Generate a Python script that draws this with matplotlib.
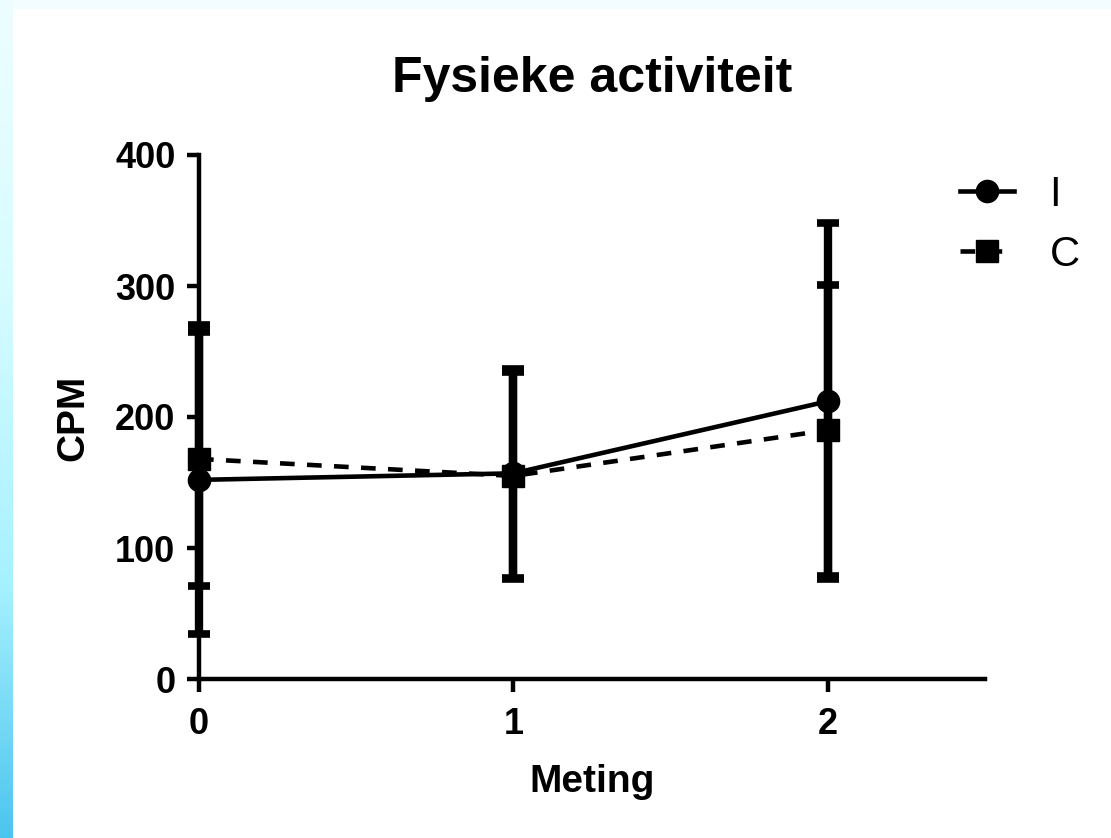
import matplotlib.pyplot as plt
import numpy as np
from matplotlib.colors import LinearSegmentedColormap

plt.rcParams["font.family"] = ["Liberation Sans", "DejaVu Sans"]

# measurement moments and group means / SD (CPM)
meting = [0, 1, 2]
i_mean = [152, 157, 212]
i_sd = [118, 80, 136]
c_mean = [168, 155, 190]
c_sd = [97, 79, 111]

yticks = [0, 100, 200, 300, 400]
xticks = [0, 1, 2]

W, H = 1111, 838
fig = plt.figure(figsize=(W / 100, H / 100), dpi=100)
fig.patch.set_facecolor("white")

# slide background: pale strip on top, cyan-blue gradient on the left
top = fig.add_axes([0, 1 - 9 / H, 1, 9 / H])
top.set_axis_off()
top.add_patch(plt.Rectangle((0, 0), 1, 1, color="#f3fdff", transform=top.transAxes))

side = fig.add_axes([0, 0, 13 / W, 1])
grad_cmap = LinearSegmentedColormap.from_list(
    "side", [(0, "#eefeff"), (0.35, "#d6fcff"), (0.7, "#a6f1ff"), (1.0, "#4cc5ee")]
)
side.imshow(np.linspace(0, 1, 256).reshape(-1, 1), aspect="auto", cmap=grad_cmap)
side.set_axis_off()

ax = fig.add_axes([199 / W, (H - 679) / H, (985 - 199) / W, (679 - 155) / H])

lw_axis = 3.2
ax.errorbar(meting, i_mean, yerr=i_sd, fmt="none", ecolor="black",
            elinewidth=6, capsize=8, capthick=5.5, clip_on=False, zorder=2)
ax.errorbar(meting, c_mean, yerr=c_sd, fmt="none", ecolor="black",
            elinewidth=6, capsize=8, capthick=5.5, clip_on=False, zorder=2)

ax.plot(meting, i_mean, color="black", lw=3.3, marker="o", ms=16,
        label="I", clip_on=False, zorder=3)
ax.plot(meting, c_mean, color="black", lw=3.3, ls=(0, (3.2, 2.7)),
        marker="s", ms=16, label="C", clip_on=False, zorder=3)

ax.set_xlim(0, 2.5)
ax.set_ylim(0, 400)
ax.set_xticks(xticks)
ax.set_yticks(yticks)

for side_name in ["top", "right"]:
    ax.spines[side_name].set_visible(False)
for side_name in ["left", "bottom"]:
    ax.spines[side_name].set_linewidth(lw_axis)

ax.tick_params(axis="both", direction="out", length=9, width=lw_axis,
               labelsize=26)
ax.tick_params(axis="y", pad=8)
ax.tick_params(axis="x", pad=11)
for lab in ax.get_xticklabels() + ax.get_yticklabels():
    lab.set_fontweight("bold")

fig.text(592 / W, 1 - 79 / H, "Fysieke activiteit", ha="center", va="center",
         fontsize=36, fontweight="bold")
fig.text(592 / W, 1 - 782 / H, "Meting", ha="center", va="center",
         fontsize=28, fontweight="bold")
fig.text(73 / W, 1 - 418 / H, "CPM", ha="center", va="center",
         rotation=90, fontsize=28, fontweight="bold")

ax.legend(loc="upper left", bbox_to_anchor=(960 / W, 1 - 175 / H),
          bbox_transform=fig.transFigure, frameon=False, fontsize=30,
          handlelength=1.3, handletextpad=0.85, labelspacing=0.47,
          borderpad=0, borderaxespad=0)

fig.savefig("out.png", dpi=100)
